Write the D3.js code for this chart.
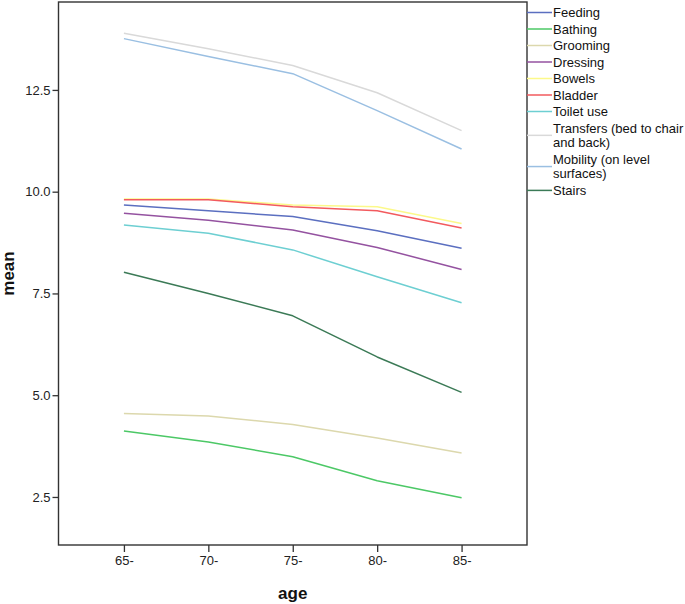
<!DOCTYPE html>
<html>
<head>
<meta charset="utf-8">
<script src="https://cdn.jsdelivr.net/npm/d3@7"></script>
<style>
  html, body { margin: 0; padding: 0; background: #fff; }
  svg { display: block; font-family: "Liberation Sans", Arial, sans-serif; }
</style>
</head>
<body>
<svg id="chart" width="685" height="604"></svg>
<script>
const ages = ["65-", "70-", "75-", "80-", "85-"];
const seriesNames = ["Feeding", "Bathing", "Grooming", "Dressing", "Bowels", "Bladder", "Toilet use",
  "Transfers (bed to chair and back)", "Mobility (on level surfaces)", "Stairs"];
const legendLines = [["Feeding"], ["Bathing"], ["Grooming"], ["Dressing"], ["Bowels"], ["Bladder"], ["Toilet use"],
  ["Transfers (bed to chair", "and back)"], ["Mobility (on level", "surfaces)"], ["Stairs"]];
const colors = ["#5b6fc0", "#4cc866", "#dcd8ad", "#9452a0", "#fcf98a", "#f25a5e", "#6dcfd2", "#d9d9d9", "#9abfe2", "#3b7a56"];

const feeding   = [9.67, 9.53, 9.39, 9.04, 8.61];
const bathing   = [4.12, 3.85, 3.49, 2.90, 2.48];
const grooming  = [4.55, 4.49, 4.28, 3.95, 3.58];
const dressing  = [9.47, 9.30, 9.06, 8.63, 8.09];
const bowels    = [9.82, 9.82, 9.67, 9.63, 9.22];
const bladder   = [9.80, 9.80, 9.63, 9.53, 9.11];
const toiletUse = [9.18, 8.98, 8.57, 7.91, 7.27];
const transfers = [13.89, 13.51, 13.10, 12.43, 11.50];
const mobility  = [13.76, 13.32, 12.90, 11.99, 11.05];
const stairs    = [8.02, 7.50, 6.95, 5.94, 5.07];
const allValues = [feeding, bathing, grooming, dressing, bowels, bladder, toiletUse, transfers, mobility, stairs];

const yTicks = [2.5, 5.0, 7.5, 10.0, 12.5];
const yDomain = [1.32, 14.66];

const svg = d3.select("#chart");
const plot = { left: 58.5, right: 527, top: 2, bottom: 545 };

const x = d3.scalePoint().domain(ages).range([plot.left, plot.right]).padding(0.775);
const y = d3.scaleLinear().domain(yDomain).range([plot.bottom, plot.top]);

// Axes
const yAxis = svg.append("g").attr("transform", `translate(${plot.left},0)`)
  .call(d3.axisLeft(y).tickValues(yTicks).tickFormat(d3.format(".1f")).tickSize(6).tickPadding(2));
const xAxis = svg.append("g").attr("transform", `translate(0,${plot.bottom})`)
  .call(d3.axisBottom(x).tickSize(7).tickPadding(4));
[yAxis, xAxis].forEach(g => {
  g.select(".domain").remove();
  g.selectAll(".tick line").attr("stroke", "#333").attr("stroke-width", 1.3);
  g.selectAll(".tick text").attr("fill", "#222").style("font-size", "13px")
    .style("font-family", "'Liberation Sans', Arial, sans-serif");
});

// Series lines
const line = d3.line().x((d, i) => x(ages[i])).y(d => y(d));
allValues.forEach((vals, k) => {
  svg.append("path").datum(vals)
    .attr("d", line)
    .attr("fill", "none")
    .attr("stroke", colors[k])
    .attr("stroke-width", 1.5)
    .attr("stroke-linejoin", "round");
});

// Frame
svg.append("rect")
  .attr("x", plot.left).attr("y", plot.top)
  .attr("width", plot.right - plot.left).attr("height", plot.bottom - plot.top)
  .attr("fill", "none").attr("stroke", "#333").attr("stroke-width", 1.4);

// Axis titles
svg.append("text").attr("x", (plot.left + plot.right) / 2).attr("y", 599)
  .attr("text-anchor", "middle").style("font-size", "17px").style("font-weight", "bold")
  .attr("fill", "#111").text("age");
svg.append("text")
  .attr("transform", `translate(14,${(plot.top + plot.bottom) / 2}) rotate(-90)`)
  .attr("text-anchor", "middle").style("font-size", "17px").style("font-weight", "bold")
  .attr("fill", "#111").text("mean");

// Legend
const lg = svg.append("g");
let cy = 12.5;
const itemGap = 16.5, lineGap = 14.7;
legendLines.forEach((lines, k) => {
  const first = cy;
  const last = cy + (lines.length - 1) * lineGap;
  const mid = (first + last) / 2;
  lg.append("line").attr("x1", plot.right).attr("x2", 552).attr("y1", mid).attr("y2", mid)
    .attr("stroke", colors[k]).attr("stroke-width", 1.5);
  lines.forEach((t, j) => {
    lg.append("text").attr("x", 553).attr("y", first + j * lineGap)
      .attr("dy", "0.35em").style("font-size", "13px").attr("fill", "#111").text(t);
  });
  cy = last + itemGap;
});
</script>
</body>
</html>
